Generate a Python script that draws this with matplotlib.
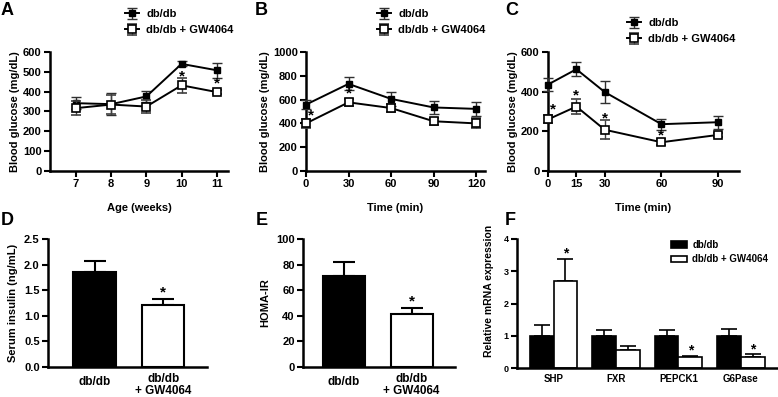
import matplotlib
matplotlib.use("Agg")
import matplotlib.pyplot as plt
import numpy as np

plt.rcParams['font.family'] = ['Liberation Sans', 'DejaVu Sans']
plt.rcParams['font.weight'] = 'bold'

# ---------------- data ----------------
label_ctrl = "db/db"
label_gw = "db/db + GW4064"

# A: blood glucose by age
age_weeks = [7, 8, 9, 10, 11]
a_ctrl = [342, 337, 376, 540, 508]
a_ctrl_err = [30, 55, 28, 13, 38]
a_gw = [317, 335, 325, 432, 398]
a_gw_err = [35, 50, 32, 37, 10]
a_star_x = [10, 11]
a_star_y = [478, 440]

# B: GTT
b_time = [0, 30, 60, 90, 120]
b_ctrl = [558, 732, 606, 534, 522]
b_ctrl_err = [40, 55, 62, 58, 58]
b_gw = [400, 577, 529, 418, 400]
b_gw_err = [38, 28, 30, 28, 42]
b_star_x = [3.5, 30]
b_star_y = [465, 648]

# C: ITT
c_time = [0, 15, 30, 60, 90]
c_ctrl = [436, 513, 398, 236, 246]
c_ctrl_err = [35, 36, 56, 28, 32]
c_gw = [260, 325, 208, 145, 182]
c_gw_err = [20, 38, 48, 14, 10]
c_star_x = [2.8, 15, 30, 60]
c_star_y = [312, 380, 264, 180]

# D: serum insulin
d_groups = ["db/db", "db/db\n+ GW4064"]
d_vals = [1.85, 1.21]
d_err = [0.23, 0.12]

# E: HOMA-IR
e_groups = ["db/db", "db/db\n+ GW4064"]
e_vals = [71.0, 41.5]
e_err = [11.0, 4.8]

# F: relative mRNA expression
f_genes = ["SHP", "FXR", "PEPCK1", "G6Pase"]
f_ctrl = [1.0, 1.0, 1.0, 1.0]
f_ctrl_err = [0.33, 0.19, 0.19, 0.22]
f_gw = [2.69, 0.56, 0.35, 0.35]
f_gw_err = [0.70, 0.13, 0.03, 0.07]
f_star_idx = [0, 2, 3]

# ---------------- figure ----------------
W, H = 778, 397
fig = plt.figure(figsize=(W / 100, H / 100), dpi=100)


def ax_at(l, t, r, b):
    return fig.add_axes([l / W, 1 - b / H, (r - l) / W, (b - t) / H])


def style(ax, fs=8):
    for s in ['top', 'right']:
        ax.spines[s].set_visible(False)
    for s in ['left', 'bottom']:
        ax.spines[s].set_linewidth(1.8)
    ax.tick_params(direction='out', length=4, width=1.5, labelsize=fs, pad=2)
    for lab in ax.get_xticklabels() + ax.get_yticklabels():
        lab.set_fontweight('bold')


def letter(x, y, s):
    fig.text(x / W, 1 - y / H, s, fontsize=13, fontweight='bold', ha='left', va='top')


def line_panel(ax, x, yc, ec, yg, eg):
    ax.errorbar(x, yc, yerr=ec, color='black', lw=1.4, marker='s', ms=4.8,
                mfc='black', mec='black', ecolor='#303030', elinewidth=1.0,
                capsize=3.5, capthick=1.0, label=label_ctrl, zorder=3, clip_on=False)
    ax.errorbar(x, yg, yerr=eg, color='black', lw=1.4, marker='s', ms=5.2,
                mfc='white', mec='black', mew=1.2, ecolor='#404040', elinewidth=1.0,
                capsize=3.5, capthick=1.0, label=label_gw, zorder=4, clip_on=False)


def line_legend(ax, x, y):
    leg = ax.legend(loc='upper left', bbox_to_anchor=(x / W, 1 - y / H),
                    bbox_transform=fig.transFigure, frameon=False, fontsize=8,
                    handlelength=1.3, handletextpad=0.6, labelspacing=0.55,
                    borderpad=0, borderaxespad=0)
    for t in leg.get_texts():
        t.set_fontweight('bold')


def star(ax, x, y, fs=11):
    ax.text(x, y, '*', ha='center', va='center', fontsize=fs, fontweight='bold')


# ---- A ----
axA = ax_at(50, 52, 228, 171)
line_panel(axA, age_weeks, a_ctrl, a_ctrl_err, a_gw, a_gw_err)
axA.set_xlim(6.26, 11.32)
axA.set_ylim(0, 600)
axA.set_xticks(age_weeks)
axA.set_yticks(np.arange(0, 601, 100))
axA.set_xlabel("Age (weeks)", fontsize=8, fontweight='bold', labelpad=10)
axA.set_ylabel("Blood glucose (mg/dL)", fontsize=8, fontweight='bold', labelpad=2)
for xs, ys in zip(a_star_x, a_star_y):
    star(axA, xs, ys)
style(axA)
line_legend(axA, 125, 9)
letter(1, 2, "A")

# ---- B ----
axB = ax_at(306, 52, 485, 171)
line_panel(axB, b_time, b_ctrl, b_ctrl_err, b_gw, b_gw_err)
axB.set_xlim(0, 126.3)
axB.set_ylim(0, 1000)
axB.set_xticks(b_time)
axB.set_yticks(np.arange(0, 1001, 200))
axB.set_xlabel("Time (min)", fontsize=8, fontweight='bold', labelpad=10)
axB.set_ylabel("Blood glucose (mg/dL)", fontsize=8, fontweight='bold', labelpad=2)
for xs, ys in zip(b_star_x, b_star_y):
    star(axB, xs, ys)
style(axB)
line_legend(axB, 377, 9)
letter(255, 2, "B")

# ---- C ----
axC = ax_at(548, 52, 739, 171)
line_panel(axC, c_time, c_ctrl, c_ctrl_err, c_gw, c_gw_err)
axC.set_xlim(0, 101)
axC.set_ylim(0, 600)
axC.set_xticks(c_time)
axC.set_yticks(np.arange(0, 601, 200))
axC.set_xlabel("Time (min)", fontsize=8, fontweight='bold', labelpad=10)
axC.set_ylabel("Blood glucose (mg/dL)", fontsize=8, fontweight='bold', labelpad=2)
for xs, ys in zip(c_star_x, c_star_y):
    star(axC, xs, ys)
style(axC)
line_legend(axC, 627, 18)
letter(505, 2, "C")


# ---- D / E ----
def bar2(ax, groups, vals, errs, ylim, yticks, ylabel, fmt, star_y):
    x = np.arange(len(groups))
    colors = ['black', 'white']
    ax.bar(x, vals, width=0.62, color=colors, edgecolor='black', linewidth=1.5, zorder=2)
    ax.errorbar(x, vals, yerr=[np.zeros(len(vals)), errs], fmt='none', ecolor='black',
                elinewidth=1.5, capsize=8, capthick=1.5, zorder=1)
    ax.set_xticks(x)
    ax.set_xticklabels(groups, fontsize=8.5, fontweight='bold', linespacing=1.1)
    ax.set_ylim(*ylim)
    ax.set_yticks(yticks)
    ax.set_yticklabels([fmt.format(v) for v in yticks])
    ax.set_ylabel(ylabel, fontsize=8, fontweight='bold', labelpad=4)
    star(ax, 1, star_y)
    style(ax)
    ax.tick_params(axis='x', length=0, pad=4, labelsize=8.5)
    # single-line label sits a bit lower, centred on the two-line one
    ax.get_xticklabels()[0].set_y(-0.025)


axD = ax_at(48, 239, 207, 367)
bar2(axD, d_groups, d_vals, d_err, (0, 2.5), np.arange(0, 2.51, 0.5),
     "Serum insulin (ng/mL)", "{:.1f}", 1.46)
axD.set_xlim(-0.68, 1.64)
letter(1, 212, "D")

axE = ax_at(303, 239, 455, 367)
bar2(axE, e_groups, e_vals, e_err, (0, 100), np.arange(0, 101, 20),
     "HOMA-IR", "{:.0f}", 51.5)
axE.set_xlim(-0.6, 1.64)
letter(256, 212, "E")

# ---- F ----
axF = ax_at(517, 239, 777, 368)
xf = np.arange(len(f_genes))
bw = 0.38
axF.bar(xf - bw / 2, f_ctrl, width=bw, color='black', edgecolor='black', linewidth=1.2,
        label=label_ctrl, zorder=2)
axF.bar(xf + bw / 2, f_gw, width=bw, color='white', edgecolor='black', linewidth=1.2,
        label=label_gw, zorder=2)
axF.errorbar(xf - bw / 2, f_ctrl, yerr=[np.zeros(4), f_ctrl_err], fmt='none', ecolor='black',
             elinewidth=1.2, capsize=6, capthick=1.2, zorder=1)
axF.errorbar(xf + bw / 2, f_gw, yerr=[np.zeros(4), f_gw_err], fmt='none', ecolor='black',
             elinewidth=1.2, capsize=6, capthick=1.2, zorder=1)
for i in f_star_idx:
    star(axF, xf[i] + bw / 2, f_gw[i] + f_gw_err[i] + 0.17, fs=10)
axF.set_xlim(-0.585, 3.58)
axF.set_ylim(0, 4)
axF.set_xticks(xf)
axF.set_xticklabels(f_genes)
axF.set_yticks(np.arange(0, 5, 1))
axF.set_ylabel("Relative mRNA expression", fontsize=7.5, fontweight='bold')
axF.yaxis.set_label_coords(-0.09, 0.6)
style(axF, fs=6.5)
axF.tick_params(axis='x', length=0, pad=4, labelsize=7)
legF = axF.legend(loc='upper left', bbox_to_anchor=(671 / W, 1 - 240 / H),
                  bbox_transform=fig.transFigure, frameon=False, fontsize=7,
                  handlelength=1.6, handleheight=0.7, handletextpad=0.6,
                  labelspacing=0.45, borderpad=0, borderaxespad=0)
for t in legF.get_texts():
    t.set_fontweight('bold')
letter(505, 212, "F")

fig.savefig("out.png", dpi=100)
